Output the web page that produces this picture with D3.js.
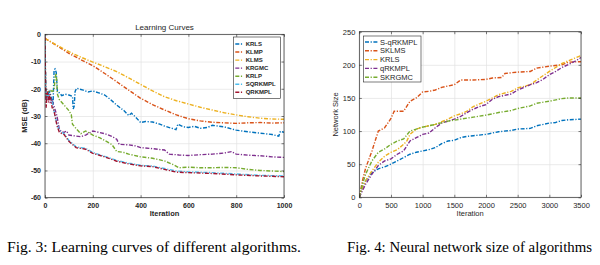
<!DOCTYPE html>
<html><head><meta charset="utf-8">
<script src="https://cdn.jsdelivr.net/npm/d3@7"></script>
<style>
html,body{margin:0;padding:0;background:#fff;}
svg{display:block;}
</style></head>
<body>
<svg id="c" width="600" height="265"></svg>
<script>
// ---------- Fig. 3 data : Learning curves (iteration, MSE dB) ----------
const lcNames = ["KRLS","KLMP","KLMS","KRGMC","KRLP","SQRKMPL","QRKMPL"];
const lcColors = ["#0072BD","#D95319","#EDB120","#7E2F8E","#77AC30","#4DBEEE","#A2142F"];
const lcXTicks = [0,200,400,600,800,1000];
const lcYTicks = [0,-10,-20,-30,-40,-50,-60];

const krls = [[0,-1.5],[3,-22],[8,-24],[12,-22],[20,-21],[28,-24],[34,-25],[38,-13],[42,-12.7],[47,-14],[52,-21],[60,-21.5],[70,-22.5],[85,-22],[100,-22.3],[115,-22.8],[118,-27.4],[122,-26.5],[126,-21],[132,-19.8],[160,-20.5],[180,-21.2],[200,-20.8],[225,-21.5],[250,-22.3],[275,-24],[300,-26],[330,-28],[350,-29.8],[362,-29],[380,-30.5],[400,-32.4],[420,-32],[450,-32.2],[480,-33],[500,-33.7],[530,-34.5],[548,-35],[556,-33],[580,-34],[600,-34.2],[625,-33.8],[650,-34.5],[680,-34.2],[700,-33.4],[750,-34],[800,-35.2],[850,-35.8],[900,-36.3],[950,-36.8],[978,-37.4],[985,-35.6],[1000,-36]];
const klmp = [[0,-1.5],[50,-4.2],[100,-7],[150,-9.3],[200,-11.5],[250,-14.4],[300,-17.4],[350,-20.5],[400,-23.5],[450,-25.8],[500,-27.8],[550,-29.6],[600,-31],[650,-31.8],[700,-32.3],[750,-32.5],[800,-32.7],[850,-32.5],[900,-32.4],[950,-32.6],[1000,-32.5]];
const klms = [[0,-1.5],[50,-4],[100,-6.4],[150,-8.4],[200,-10.2],[250,-11.9],[300,-13.7],[350,-16],[400,-18.4],[450,-20.8],[500,-22.9],[550,-24.4],[600,-25.6],[650,-26.8],[700,-27.8],[750,-28.8],[800,-29.6],[850,-30.3],[900,-30.8],[950,-31.1],[1000,-31.2]];
const krgmc = [[0,-1.5],[3,-24],[8,-22.5],[15,-23],[22,-25],[30,-24.5],[40,-27],[50,-30],[60,-35],[70,-35.8],[80,-36],[90,-35.5],[100,-37],[125,-37.3],[150,-37.6],[170,-37],[200,-35.5],[225,-36],[250,-36.5],[280,-37.5],[300,-38.5],[310,-40.4],[350,-40.6],[380,-41],[400,-41.6],[450,-42],[500,-42.5],[520,-44],[560,-44.3],[600,-44.5],[650,-44.2],[700,-44],[750,-43.6],[780,-43.1],[800,-44],[850,-44.4],[900,-44.6],[950,-45],[1000,-45.2]];
const krlp = [[0,-1.5],[3,-23],[8,-22],[15,-21],[22,-20.5],[30,-21],[38,-20.5],[43,-15.5],[47,-14.3],[52,-22],[60,-24],[80,-26],[100,-28],[110,-29.5],[115,-33],[130,-34.6],[150,-36.5],[170,-35.5],[200,-37],[230,-38],[250,-39],[280,-40.5],[300,-43],[330,-43.4],[350,-44],[400,-45],[450,-45.5],[500,-46.5],[540,-48],[560,-49],[600,-48.8],[650,-49],[700,-49],[750,-48.9],[800,-49],[850,-49.6],[900,-50],[950,-50.2],[1000,-50.4]];
const sqrkmpl = [[0,-1.5],[3,-24],[8,-22],[15,-22.5],[22,-23.5],[30,-25],[40,-29],[50,-33],[60,-35.5],[80,-36.5],[100,-39],[130,-41.3],[170,-41.9],[200,-43.4],[250,-44.8],[300,-46.3],[350,-47.3],[400,-48.1],[450,-48.4],[500,-49.3],[550,-50.2],[600,-50.5],[700,-50.8],[800,-51.3],[900,-51.8],[1000,-52]];
const qrkmpl = [[0,-1],[2,-16],[5,-27],[8,-22],[12,-21],[15,-25],[20,-22],[25,-24],[30,-27],[35,-27],[40,-29],[50,-33.5],[60,-36],[80,-36.8],[100,-39.3],[130,-41.6],[170,-42.2],[200,-43.7],[250,-45],[300,-46.6],[350,-47.6],[400,-48.3],[450,-48.6],[500,-49.6],[550,-50.6],[600,-50.8],[700,-51.1],[800,-51.6],[900,-52],[1000,-52.3]];
const lcSeries = [krls, klmp, klms, krgmc, krlp, sqrkmpl, qrkmpl];

// ---------- Fig. 4 data : Network size (iteration, size) ----------
const nsNames = ["S-qRKMPL","SKLMS","KRLS","qRKMPL","SKRGMC"];
const nsColors = ["#0072BD","#D95319","#EDB120","#7E2F8E","#77AC30"];
const nsXTicks = [0,500,1000,1500,2000,2500,3000,3500];
const nsYTicks = [0,50,100,150,200,250];

const sqrk = [[0,0],[50,15],[100,25],[200,37],[300,43],[400,46],[500,50],[600,55],[700,60],[800,65],[900,68],[1000,70],[1100,72],[1200,75],[1300,81],[1400,85],[1500,86],[1600,90],[1700,92],[1800,93],[2000,95],[2100,97],[2200,99],[2400,101],[2500,103],[2700,104],[2800,108],[3000,112],[3100,113],[3200,116],[3300,117],[3500,118]];
const sklms = [[0,0],[50,25],[100,44],[200,70],[300,100],[400,105],[500,119],[550,130],[700,130],[800,145],[900,150],[1000,159],[1100,160],[1200,162],[1300,166],[1500,170],[1600,177],[1800,177],[2000,178],[2100,180],[2250,181],[2300,187],[2500,189],[2700,190],[2800,195],[3000,198],[3200,200],[3300,204],[3500,204.7]];
const krlsN = [[0,0],[50,15],[100,25],[200,40],[300,53],[400,62],[500,68],[600,72],[700,80],[750,85],[800,95],[900,103],[1000,106],[1200,110],[1400,118],[1500,123],[1600,126],[1700,130],[1800,137],[2000,145],[2200,155],[2400,160],[2500,165],[2700,170],[2800,177],[3000,190],[3200,202],[3400,210],[3500,214]];
const qrk = [[0,0],[50,10],[100,20],[200,35],[300,48],[400,55],[500,58],[600,65],[700,70],[800,85],[900,90],[1000,95],[1100,97],[1200,105],[1300,112],[1400,115],[1500,118],[1600,122],[1700,128],[1800,133],[1900,137],[2000,140],[2100,148],[2200,152],[2400,156],[2500,162],[2700,170],[2800,173],[2900,178],[3000,185],[3100,190],[3200,196],[3400,205],[3500,211]];
const skrgmc = [[0,0],[50,20],[100,35],[200,55],[300,68],[400,73],[500,80],[600,85],[700,88],[800,100],[900,103],[1000,106],[1200,110],[1400,115],[1600,118],[1800,121],[2000,124],[2200,128],[2400,131],[2500,134],[2700,138],[2800,142],[3000,145],[3200,149],[3300,150],[3500,150]];
const nsSeries = [sqrk, sklms, krlsN, qrk, skrgmc];

const captions = ["Fig. 3: Learning curves of different algorithms.", "Fig. 4: Neural network size of algorithms"];

// ---------- drawing ----------
const svg = d3.select("#c");
const FONT = "'Liberation Sans', Arial, Helvetica, sans-serif";
const DASH = "4,1.6,1.2,1.6";
const fmt = d => String(d);

function panel(o){
  const g = svg.append("g");
  const x = d3.scaleLinear().domain(o.xd).range([o.x0, o.x1]);
  const y = d3.scaleLinear().domain(o.yd).range([o.y1, o.y0]);
  const w = o.bold ? "bold" : "normal";
  g.append("rect").attr("x",o.x0).attr("y",o.y0).attr("width",o.x1-o.x0).attr("height",o.y1-o.y0).attr("fill","#fff");
  // grid
  g.append("g").attr("transform",`translate(0,${o.y1})`)
    .call(d3.axisBottom(x).tickValues(o.xt).tickSize(-(o.y1-o.y0)).tickFormat(""))
    .call(s=>{s.select(".domain").remove(); s.selectAll("line").attr("stroke","#e3e3e3").attr("stroke-width",0.7);});
  g.append("g").attr("transform",`translate(${o.x0},0)`)
    .call(d3.axisLeft(y).tickValues(o.yt).tickSize(-(o.x1-o.x0)).tickFormat(""))
    .call(s=>{s.select(".domain").remove(); s.selectAll("line").attr("stroke","#e3e3e3").attr("stroke-width",0.7);});
  // lines
  const line = d3.line().x(d=>x(d[0])).y(d=>y(d[1]));
  const clipId = "clip"+o.id;
  svg.append("clipPath").attr("id",clipId).append("rect").attr("x",o.x0).attr("y",o.y0-1).attr("width",o.x1-o.x0).attr("height",o.y1-o.y0+2);
  const lg = g.append("g").attr("clip-path",`url(#${clipId})`);
  o.series.forEach((s,i)=>{
    lg.append("path").datum(s).attr("d",line).attr("fill","none")
      .attr("stroke",o.colors[i]).attr("stroke-width",1.4).attr("stroke-dasharray",DASH);
  });
  // axes with inward ticks
  const ax = g.append("g").attr("transform",`translate(0,${o.y1})`)
    .call(d3.axisBottom(x).tickValues(o.xt).tickFormat(fmt).tickSizeInner(-2.5).tickSizeOuter(0).tickPadding(5));
  ax.selectAll("text").attr("font-size",o.tfs).attr("font-weight",w).attr("fill","#262626").attr("font-family",FONT);
  const ay = g.append("g").attr("transform",`translate(${o.x0},0)`)
    .call(d3.axisLeft(y).tickValues(o.yt).tickFormat(fmt).tickSizeInner(-2.5).tickSizeOuter(0).tickPadding(4));
  ay.selectAll("text").attr("font-size",o.tfs).attr("font-weight",w).attr("fill","#262626").attr("font-family",FONT);
  [ax,ay].forEach(a=>{a.selectAll("line").attr("stroke","#262626").attr("stroke-width",0.6); a.select(".domain").remove();});
  // top / right ticks
  g.append("g").attr("transform",`translate(0,${o.y0})`)
    .call(d3.axisTop(x).tickValues(o.xt).tickSizeInner(-2.5).tickSizeOuter(0).tickFormat(""))
    .call(s=>{s.select(".domain").remove(); s.selectAll("line").attr("stroke","#262626").attr("stroke-width",0.6);});
  g.append("g").attr("transform",`translate(${o.x1},0)`)
    .call(d3.axisRight(y).tickValues(o.yt).tickSizeInner(-2.5).tickSizeOuter(0).tickFormat(""))
    .call(s=>{s.select(".domain").remove(); s.selectAll("line").attr("stroke","#262626").attr("stroke-width",0.6);});
  // box
  g.append("rect").attr("x",o.x0).attr("y",o.y0).attr("width",o.x1-o.x0).attr("height",o.y1-o.y0)
    .attr("fill","none").attr("stroke","#262626").attr("stroke-width",0.7);
  // labels
  g.append("text").attr("x",(o.x0+o.x1)/2).attr("y",o.xlY).attr("text-anchor","middle")
    .attr("font-family",FONT).attr("font-size",o.lfs).attr("font-weight",w).attr("fill","#262626").text("Iteration");
  g.append("text").attr("transform",`translate(${o.ylX},${(o.y0+o.y1)/2}) rotate(-90)`).attr("text-anchor","middle")
    .attr("font-family",FONT).attr("font-size",o.lfs).attr("font-weight",w).attr("fill","#262626").text(o.ylabel);
  if(o.title){
    g.append("text").attr("x",(o.x0+o.x1)/2).attr("y",o.y0-4).attr("text-anchor","middle")
      .attr("font-family",FONT).attr("font-size",8).attr("fill","#262626").text(o.title);
  }
  // legend
  const L = o.leg;
  const lgd = g.append("g");
  lgd.append("rect").attr("x",L.x).attr("y",L.y).attr("width",L.w).attr("height",L.h)
    .attr("fill","#fff").attr("stroke","#262626").attr("stroke-width",0.6);
  o.names.forEach((n,i)=>{
    const yy = L.y + L.first + i*L.step;
    lgd.append("line").attr("x1",L.x+L.lx0).attr("x2",L.x+L.lx1).attr("y1",yy).attr("y2",yy)
      .attr("stroke",o.colors[i]).attr("stroke-width",1.4).attr("stroke-dasharray",DASH);
    lgd.append("text").attr("x",L.x+L.tx).attr("y",yy).attr("dy","0.35em")
      .attr("font-family",FONT).attr("font-size",L.fs).attr("font-weight",w).attr("fill","#262626").text(n);
  });
}

panel({id:"a", x0:45, x1:284, y0:34.3, y1:197.7, xd:[0,1000], yd:[-60,0], xt:lcXTicks, yt:lcYTicks,
  series:lcSeries, colors:lcColors, names:lcNames, bold:true, tfs:7, lfs:7.5, xlY:216, ylX:27,
  ylabel:"MSE (dB)", title:"Learning Curves",
  leg:{x:233.3, y:37, w:47.2, h:61.5, first:7, step:8.05, lx0:2, lx1:10, tx:12.4, fs:6}});

panel({id:"b", x0:359.3, x1:581, y0:31.7, y1:197.3, xd:[0,3500], yd:[0,250], xt:nsXTicks, yt:nsYTicks,
  series:nsSeries, colors:nsColors, names:nsNames, bold:false, tfs:7.5, lfs:7.5, xlY:216, ylX:338,
  ylabel:"Network Size", title:null,
  leg:{x:363.5, y:36, w:57.5, h:46, first:6, step:8.8, lx0:1.5, lx1:15, tx:16.5, fs:7.5}});

// captions
const capX = [[7,301],[347,592]];
captions.forEach((c,i)=>{
  svg.append("text").attr("x",capX[i][0]).attr("y",252)
    .attr("font-family","'Liberation Serif','Times New Roman',serif").attr("font-size",14)
    .attr("textLength",capX[i][1]-capX[i][0]).attr("lengthAdjust","spacingAndGlyphs")
    .attr("fill","#000").text(c);
});
</script>
</body></html>
